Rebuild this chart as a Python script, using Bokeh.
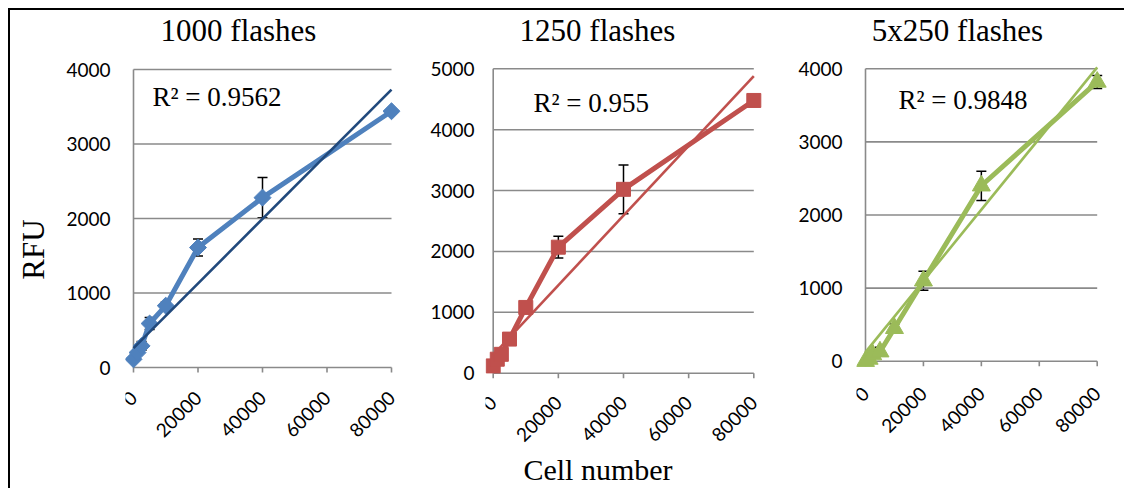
import numpy as np
from bokeh.plotting import figure
from bokeh.layouts import row
from bokeh.models import Range1d, FixedTicker, Label, Whisker, TeeHead, ColumnDataSource
from bokeh.core.properties import value
from bokeh.embed import file_html
from bokeh.resources import INLINE

# ---------------- data ----------------
cells = [0, 1250, 2500, 5000, 10000, 20000, 40000, 80000]

rfu_1000 = [110, 200, 290, 590, 830, 1610, 2280, 3440]
err_1000 = [20, 30, 60, 80, 50, 115, 270, 30]

rfu_1250 = [120, 230, 310, 560, 1080, 2070, 3020, 4480]
err_1250 = [20, 30, 40, 60, 60, 178, 400, 40]

rfu_5x250 = [0, 30, 90, 130, 450, 1100, 2400, 3820]
err_5x250 = [10, 20, 30, 60, 60, 130, 200, 90]

trend_x = [0, 80000]
trend_1000 = [260, 3730]
trend_1250 = [300, 4880]
trend_5x250 = [125, 4020]

titles = ["1000 flashes", "1250 flashes", "5x250 flashes"]
r2_labels = ["R\u00b2 = 0.9562", "R\u00b2 = 0.955", "R\u00b2 = 0.9848"]
x_ticks = [0, 20000, 40000, 60000, 80000]
y_ticks_a = [0, 1000, 2000, 3000, 4000]
y_ticks_b = [0, 1000, 2000, 3000, 4000, 5000]
y_title = "RFU"
x_title = "Cell number"

# ---------------- styles / layout (page pixels) ----------------
GRID = "#8a8a8a"
SERIF = "Liberation Serif"
SANS = "Lato"
TOP, BOTTOM = 10, 488     # page y of the canvases' top and bottom


def panel(canvas, frame, xpx, ypx, yticks, ys, errs, trend, color, tcolor,
          marker, msize, mangle, title, title_cx, r2, r2_xy, ystandoff, xlab_dy):
    cl, cr = canvas
    fl, fr = frame
    x0p, x1p = xpx
    y0p, ytp = ypx
    xmax = x_ticks[-1]
    ymax = yticks[-1]
    sx = (x1p - x0p) / xmax
    sy = (y0p - ytp) / ymax
    xr = Range1d(-(x0p - fl) / sx, xmax + (fr - x1p) / sx)
    yr = Range1d(-(BOTTOM - y0p) / sy, ymax + (ytp - TOP) / sy)

    def dx(px):
        return (px - x0p) / sx

    def dy(py):
        return (y0p - py) / sy

    p = figure(width=cr - cl, height=BOTTOM - TOP, x_range=xr, y_range=yr,
               output_backend="svg", toolbar_location=None, x_axis_location=None,
               min_border_left=fl - cl, min_border_right=cr - fr,
               min_border_top=0, min_border_bottom=0)
    p.outline_line_color = None
    p.background_fill_color = "white"
    p.border_fill_color = "white"
    p.xgrid.visible = False
    p.ygrid.visible = False

    # horizontal gridlines between x=0 and the last tick
    gy = yticks[1:]
    p.segment(x0=[x_ticks[0]] * len(gy), x1=[xmax] * len(gy), y0=gy, y1=gy,
              line_color=GRID, line_width=1.6)
    # axis lines at x=0 and y=0
    p.segment(x0=[x_ticks[0], x_ticks[0]], x1=[xmax, x_ticks[0]],
              y0=[yticks[0], yticks[0]], y1=[yticks[0], ymax],
              line_color=GRID, line_width=1.6)
    # x tick marks (5 px below the axis) and rotated tick labels
    tick_len = 5 / sy
    p.segment(x0=x_ticks, x1=x_ticks, y0=[yticks[0]] * len(x_ticks),
              y1=[yticks[0] - tick_len] * len(x_ticks), line_color=GRID, line_width=1.6)
    p.text(x=x_ticks, y=[yticks[0] - xlab_dy / sy] * len(x_ticks),
           text=[str(t) for t in x_ticks], angle=np.pi / 4,
           text_align="right", text_baseline="middle",
           text_font=value(SANS), text_font_size=value("19px"), text_color="black")

    ya = p.yaxis[0]
    ya.bounds = (0, ymax)
    ya.ticker = FixedTicker(ticks=yticks)
    ya.minor_tick_line_color = None
    ya.major_tick_line_color = None
    ya.major_tick_out = 0
    ya.major_tick_in = 0
    ya.axis_line_color = None
    ya.major_label_text_font = SANS
    ya.major_label_text_font_size = "19px"
    ya.major_label_text_color = "black"
    ya.major_label_standoff = ystandoff

    # error bars
    src = ColumnDataSource(dict(x=cells,
                                lower=[v - e for v, e in zip(ys, errs)],
                                upper=[v + e for v, e in zip(ys, errs)]))
    w = Whisker(source=src, base="x", lower="lower", upper="upper",
                line_color="black", line_width=1.5,
                upper_head=TeeHead(size=10, line_color="black", line_width=1.5),
                lower_head=TeeHead(size=10, line_color="black", line_width=1.5))
    p.add_layout(w)

    p.line(cells, ys, line_color=color, line_width=5, line_join="round")
    p.scatter(cells, ys, marker=marker, size=msize, angle=mangle,
              fill_color=color, line_color=color)
    p.line(trend_x, trend, line_color=tcolor, line_width=2.6)

    p.add_layout(Label(x=dx(title_cx), y=dy(30), text=title, text_align="center",
                       text_baseline="middle", text_font=SERIF,
                       text_font_size="31px", text_color="black"))
    p.add_layout(Label(x=dx(r2_xy[0]), y=dy(r2_xy[1]), text=r2, text_align="left",
                       text_baseline="middle", text_font=SERIF,
                       text_font_size="27px", text_color="black"))
    return p, dx, dy


p1, dx1, dy1 = panel((10, 402), (125, 400), (133, 391), (367, 69), y_ticks_a,
                     rfu_1000, err_1000, trend_1000, "#4F81BD", "#21497C",
                     "square", 12, np.pi / 4, titles[0], 238, r2_labels[0], (152, 96), 15, 27)
p2, dx2, dy2 = panel((402, 770), (485, 762), (492.7, 753.3), (372.7, 68.3), y_ticks_b,
                     rfu_1250, err_1250, trend_1250, "#C0504D", "#C0504D",
                     "square", 14, 0, titles[1], 597, r2_labels[1], (533, 102), 11, 26)
p3, dx3, dy3 = panel((770, 1124), (856, 1107), (865, 1096.7), (360.7, 68.3), y_ticks_a,
                     rfu_5x250, err_5x250, trend_5x250, "#9BBB59", "#9BBB59",
                     "triangle", 18, 0, titles[2], 957, r2_labels[2], (898, 99), 14, 29)

# y title on the first chart's axis
ya1 = p1.yaxis[0]
ya1.axis_label = y_title
ya1.axis_label_text_font = SERIF
ya1.axis_label_text_font_size = "31px"
ya1.axis_label_text_font_style = "normal"
ya1.axis_label_text_color = "black"
ya1.axis_label_standoff = 12

# x title under the middle chart
p2.add_layout(Label(x=dx2(597.5), y=dy2(469), text=x_title,
                    text_align="center", text_baseline="middle", text_font=SERIF,
                    text_font_size="30px", text_color="black"))

layout = row(p1, p2, p3, margin=(8, 0, 0, 8),
             styles={"border-left": "2px solid black", "border-top": "2px solid black"})

open("out.html", "w").write(file_html(layout, INLINE))
